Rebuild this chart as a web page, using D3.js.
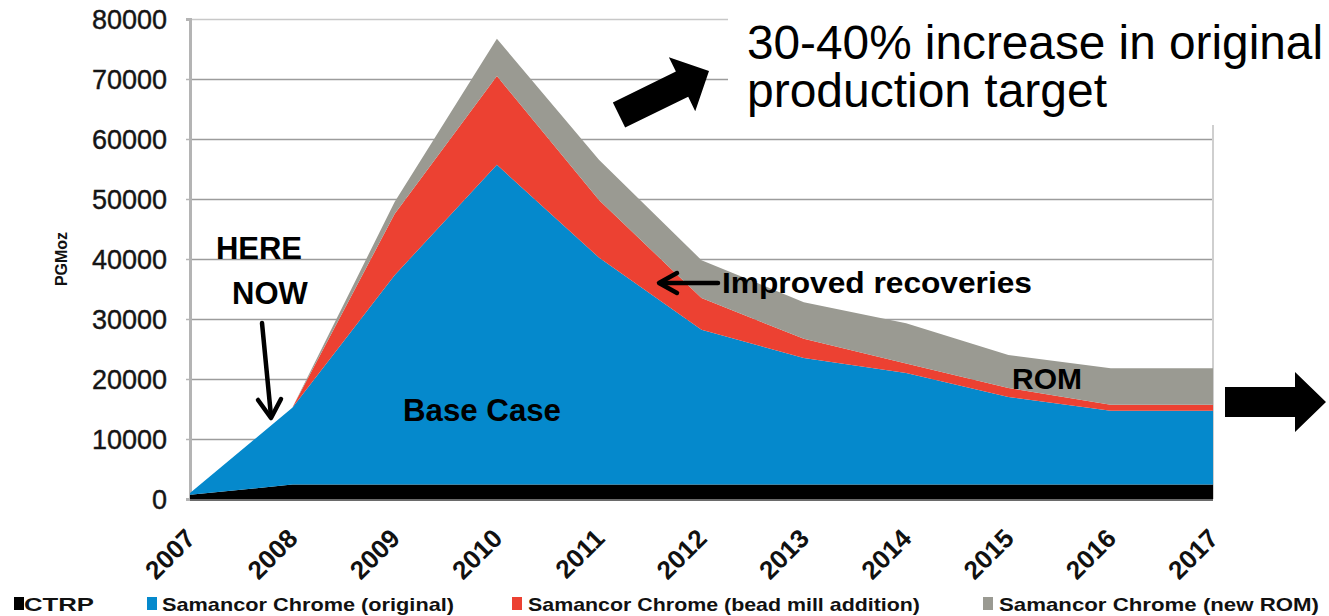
<!DOCTYPE html>
<html>
<head>
<meta charset="utf-8">
<script src="https://cdn.jsdelivr.net/npm/d3@7"></script>
<style>
  html, body { margin: 0; padding: 0; background: #fff; }
  svg { display: block; font-family: "Liberation Sans", Arial, sans-serif; }
</style>
</head>
<body>
<svg id="chart" width="1329" height="616"></svg>
<script>
// Production profile by year (PGM oz), stacked
const years = ["2007","2008","2009","2010","2011","2012","2013","2014","2015","2016","2017"];
const ctrp        = [700, 2400, 2400, 2400, 2400, 2400, 2400, 2400, 2400, 2400, 2400];
const scOriginal  = [300, 12800, 34900, 53300, 37800, 25800, 21100, 18600, 14600, 12300, 12300];
const scBeadMill  = [0, 0, 10200, 14800, 9600, 5300, 3200, 1600, 1500, 1000, 1000];
const scNewROM    = [0, 0, 2000, 6200, 6700, 6300, 6100, 6700, 5500, 6100, 6100];
const yTickValues = [0, 10000, 20000, 30000, 40000, 50000, 60000, 70000, 80000];

const seriesKeys   = ["ctrp", "original", "bead", "rom"];
const seriesNames  = ["CTRP", "Samancor Chrome (original)", "Samancor Chrome (bead mill addition)", "Samancor Chrome (new ROM)"];
const seriesColors = ["#000000", "#0589cc", "#ec4132", "#9a9a92"];

const rows = years.map((yr, i) => ({
  year: yr, ctrp: ctrp[i], original: scOriginal[i], bead: scBeadMill[i], rom: scNewROM[i]
}));

const svg = d3.select("#chart");
const plotL = 190, plotR = 1213, plotT = 19, plotB = 499;

const x = d3.scalePoint().domain(years).range([plotL, plotR]);
const y = d3.scaleLinear().domain([0, 80000]).range([plotB, plotT]);

// Gridlines
svg.append("g")
  .attr("transform", `translate(${plotL},0)`)
  .call(d3.axisLeft(y).tickValues(yTickValues.slice(1)).tickSize(-(plotR - plotL)).tickFormat(""))
  .call(g => g.select(".domain").remove())
  .call(g => g.selectAll(".tick line")
    .attr("stroke", d => d === 80000 ? "#c8c8c8" : "#9c9c9c")
    .attr("stroke-width", 1.6));

// Right plot border
svg.append("line")
  .attr("x1", plotR).attr("x2", plotR).attr("y1", plotT).attr("y2", plotB)
  .attr("stroke", "#cfcfcf").attr("stroke-width", 2);

// Left axis line with small ticks
svg.append("g")
  .attr("transform", `translate(${plotL},0)`)
  .call(d3.axisLeft(y).tickValues(yTickValues).tickSize(4).tickFormat(""))
  .call(g => g.select(".domain").attr("stroke", "#b4b4b4").attr("stroke-width", 3))
  .call(g => g.selectAll(".tick line").attr("stroke", "#b4b4b4").attr("stroke-width", 1.5));

// Stacked areas
const stacked = d3.stack().keys(seriesKeys)(rows);
const area = d3.area()
  .x(d => x(d.data.year))
  .y0(d => y(d[0]))
  .y1(d => y(d[1]));

svg.append("g").selectAll("path")
  .data(stacked)
  .join("path")
  .attr("d", area)
  .attr("fill", (d, i) => seriesColors[i]);

// Bottom axis line
svg.append("line")
  .attr("x1", plotL).attr("x2", plotR).attr("y1", plotB + 1).attr("y2", plotB + 1)
  .attr("stroke", "#6a6a6a").attr("stroke-width", 2);

// Y tick labels
svg.append("g").selectAll("text")
  .data(yTickValues)
  .join("text")
  .attr("x", 167)
  .attr("y", d => y(d))
  .attr("dy", "0.36em")
  .attr("text-anchor", "end")
  .attr("font-size", 27)
  .attr("fill", "#151515")
  .attr("stroke", "#151515").attr("stroke-width", 0.4)
  .text(d => d);

// Y axis title
svg.append("text")
  .attr("transform", "translate(67,259) rotate(-90)")
  .attr("text-anchor", "middle")
  .attr("font-size", 16)
  .attr("font-weight", "bold")
  .attr("fill", "#111")
  .text("PGMoz");

// X tick labels, rotated
svg.append("g").selectAll("text")
  .data(years)
  .join("text")
  .attr("transform", d => `translate(${x(d) + 7},540) rotate(-45)`)
  .attr("text-anchor", "end")
  .attr("font-size", 26)
  .attr("font-weight", "bold")
  .attr("fill", "#111")
  .text(d => d);

// Legend
const legendItems = [
  { sq: 14, tx: 24, tl: 70 },
  { sq: 147, tx: 162, tl: 292 },
  { sq: 512, tx: 528, tl: 392 },
  { sq: 983, tx: 999, tl: 320 }
];
const lg = svg.append("g");
legendItems.forEach((it, i) => {
  lg.append("rect")
    .attr("x", it.sq).attr("y", 597).attr("width", 10).attr("height", 13)
    .attr("fill", seriesColors[i]);
  lg.append("text")
    .attr("x", it.tx).attr("y", 611)
    .attr("font-size", 19)
    .attr("font-weight", "bold")
    .attr("fill", "#111")
    .attr("textLength", it.tl)
    .attr("lengthAdjust", "spacingAndGlyphs")
    .text(seriesNames[i]);
});

// Block arrow helper: tail centre -> tip
function blockArrow(x0, y0, x1, y1, shaftW, headW, headL) {
  const len = Math.hypot(x1 - x0, y1 - y0);
  const ang = Math.atan2(y1 - y0, x1 - x0) * 180 / Math.PI;
  const b = len - headL;
  const pts = [[0, -shaftW / 2], [b, -shaftW / 2], [b, -headW / 2], [len, 0],
               [b, headW / 2], [b, shaftW / 2], [0, shaftW / 2]];
  svg.append("path")
    .attr("d", d3.line()(pts) + "Z")
    .attr("transform", `translate(${x0},${y0}) rotate(${ang})`)
    .attr("fill", "#000");
}

// Headline box
svg.append("rect").attr("x", 728).attr("y", 0).attr("width", 601).attr("height", 125).attr("fill", "#fff");
const head = svg.append("text").attr("font-size", 48).attr("fill", "#000");
head.append("tspan").attr("x", 747).attr("y", 59).attr("textLength", 576).attr("lengthAdjust", "spacingAndGlyphs")
  .text("30-40% increase in original");
head.append("tspan").attr("x", 747).attr("y", 107).attr("textLength", 360).attr("lengthAdjust", "spacingAndGlyphs")
  .text("production target");

blockArrow(619, 115, 709, 71, 28, 60, 30);
blockArrow(1225, 402, 1326, 402, 30, 60, 31);

// Text annotations
function boldLabel(txt, xx, yy, fs, anchor, tl) {
  const t = svg.append("text")
    .attr("x", xx).attr("y", yy)
    .attr("font-size", fs).attr("font-weight", "bold")
    .attr("text-anchor", anchor || "start")
    .attr("fill", "#000").text(txt);
  if (tl) t.attr("textLength", tl).attr("lengthAdjust", "spacingAndGlyphs");
  return t;
}
boldLabel("HERE", 259, 259, 31, "middle");
boldLabel("NOW", 270, 304, 31, "middle");
boldLabel("Base Case", 403, 421, 31, "start", 158);
boldLabel("Improved recoveries", 722, 293, 30, "start", 310);
boldLabel("ROM", 1012, 389, 30, "start", 70);

// Line arrows
const arrowStyle = sel => sel.attr("stroke", "#000").attr("stroke-width", 4.5)
  .attr("fill", "none").attr("stroke-linecap", "round").attr("stroke-linejoin", "round");
svg.append("line").attr("x1", 262).attr("y1", 323).attr("x2", 271).attr("y2", 416).call(arrowStyle);
svg.append("path").attr("d", d3.line()([[258, 400], [271, 418], [281, 399]])).call(arrowStyle);
svg.append("line").attr("x1", 718).attr("y1", 283).attr("x2", 660).attr("y2", 283).call(arrowStyle);
svg.append("path").attr("d", d3.line()([[677, 273], [659, 283], [677, 293]])).call(arrowStyle);
</script>
</body>
</html>
